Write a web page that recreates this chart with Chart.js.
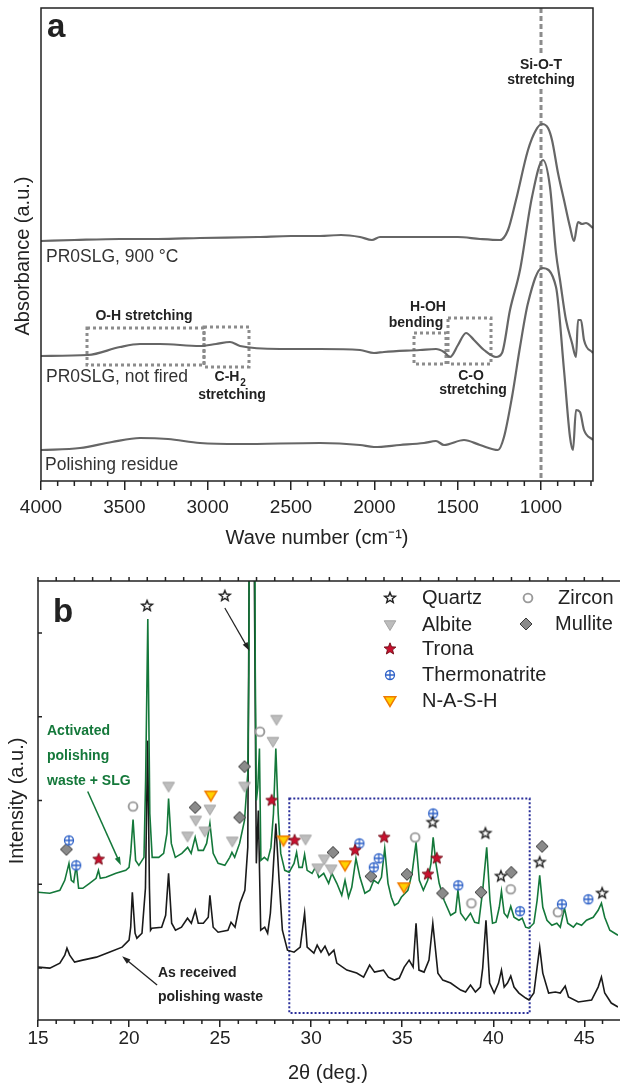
<!DOCTYPE html>
<html>
<head>
<meta charset="utf-8">
<script src="https://cdn.jsdelivr.net/npm/chart.js@4.4.1/dist/chart.umd.min.js"></script>
<style>
  body { margin: 0; background: #fff; }
  #ftir { position: absolute; left: 0; top: 0; }
  #xrd { position: absolute; left: 0; top: 560px; }
</style>
</head>
<body>
<canvas id="ftir" width="624" height="560"></canvas>
<canvas id="xrd" width="624" height="525"></canvas>
<script>
// ---- panel a: FTIR spectra (wave number in cm-1, absorbance in a.u.) ----
const wn900 = [4000, 3800, 3526, 3300, 3046, 2700, 2500, 2326, 2200, 2086, 2014, 1966, 1800, 1606, 1500, 1366, 1246, 1198, 1150, 1078, 1030, 994, 958, 934, 898, 862, 826, 802, 778, 754, 730, 688];
const abs900 = [2.40, 2.41, 2.42, 2.42, 2.43, 2.44, 2.45, 2.45, 2.46, 2.44, 2.41, 2.44, 2.44, 2.44, 2.44, 2.42, 2.41, 2.51, 2.81, 3.31, 3.51, 3.57, 3.53, 3.41, 3.08, 2.81, 2.54, 2.40, 2.59, 2.57, 2.58, 2.53];

const wnNotFired = [4000, 3718, 3526, 3406, 3286, 3046, 2950, 2866, 2806, 2566, 2326, 2086, 2002, 1942, 1726, 1630, 1582, 1546, 1498, 1450, 1402, 1342, 1270, 1234, 1186, 1126, 1054, 988, 946, 910, 886, 850, 814, 790, 778, 760, 742, 688];
const absNotFired = [1.25, 1.26, 1.34, 1.37, 1.37, 1.35, 1.37, 1.39, 1.35, 1.32, 1.32, 1.31, 1.28, 1.29, 1.31, 1.32, 1.29, 1.24, 1.36, 1.48, 1.41, 1.31, 1.24, 1.28, 1.71, 2.11, 2.84, 3.21, 2.94, 2.28, 2.01, 1.61, 1.38, 1.24, 1.61, 1.61, 1.41, 1.28];

const wnResidue = [4000, 3766, 3574, 3406, 3238, 3046, 2806, 2326, 2086, 2002, 1846, 1702, 1630, 1582, 1462, 1366, 1258, 1222, 1174, 1126, 1078, 994, 910, 862, 826, 808, 790, 766, 742, 688];
const absResidue = [0.31, 0.33, 0.39, 0.43, 0.42, 0.38, 0.37, 0.38, 0.36, 0.34, 0.36, 0.38, 0.40, 0.36, 0.41, 0.36, 0.31, 0.44, 0.84, 1.34, 1.78, 2.13, 1.94, 1.11, 0.44, 0.31, 0.71, 0.69, 0.51, 0.41];

const ftirTicks = [4000, 3500, 3000, 2500, 2000, 1500, 1000];
const siotBand = 1000;

// ---- panel b: XRD patterns (2theta in deg., intensity in a.u.) ----
const tthActivated = [15.00, 15.65, 16.20, 16.47, 16.70, 16.83, 16.96, 17.10, 17.23, 17.46,
  17.83, 18.19, 18.32, 18.42, 18.73, 19.28, 19.82, 20.00, 20.09, 20.22,
  20.36, 20.54, 20.82, 20.91, 21.03, 21.14, 21.27, 21.63, 21.90, 22.08,
  22.17, 22.32, 22.54, 22.90, 23.22, 23.41, 23.63, 23.80, 24.08, 24.26,
  24.44, 24.62, 24.89, 25.26, 25.53, 25.65, 25.80, 26.07, 26.34, 26.52,
  26.58, 26.64, 26.86, 26.93, 26.99, 27.07, 27.16, 27.24, 27.43, 27.61,
  27.79, 27.93, 28.06, 28.19, 28.33, 28.55, 28.79, 29.06, 29.20, 29.33,
  29.51, 29.64, 29.78, 30.05, 30.23, 30.42, 30.69, 30.96, 31.14, 31.41,
  31.68, 31.86, 32.05, 32.23, 32.46, 32.68, 32.95, 33.22, 33.44, 33.68,
  33.86, 34.04, 34.22, 34.40, 34.58, 34.77, 34.95, 35.31, 35.54, 35.76,
  35.94, 36.16, 36.40, 36.58, 36.70, 36.85, 37.03, 37.30, 37.66, 37.93,
  38.06, 38.21, 38.48, 38.75, 38.98, 39.20, 39.42, 39.64, 39.82, 39.96,
  40.15, 40.33, 40.45, 40.60, 40.78, 40.96, 41.14, 41.41, 41.59, 41.78,
  41.96, 42.23, 42.41, 42.55, 42.72, 42.95, 43.22, 43.49, 43.68, 43.91,
  44.09, 44.40, 44.58, 44.85, 45.12, 45.49, 45.76, 45.94, 46.12, 46.40,
  46.67, 46.85];
const intActivated = [76, 75, 78, 88, 105, 88, 86, 103, 80, 80,
  85, 90, 98, 90, 91, 95, 98, 101, 115, 149,
  108, 103, 111, 188, 350, 155, 111, 111, 115, 135,
  170, 125, 111, 115, 121, 115, 131, 118, 118, 125,
  145, 115, 105, 103, 111, 116, 111, 125, 148, 195,
  300, 750, 750, 300, 168, 181, 220, 108, 111, 108,
  121, 155, 220, 155, 115, 98, 96, 105, 116, 101,
  101, 114, 98, 95, 101, 91, 95, 85, 95, 85,
  73, 88, 71, 81, 110, 91, 75, 78, 88, 85,
  91, 120, 85, 71, 63, 65, 71, 78, 95, 126,
  88, 78, 88, 105, 131, 105, 85, 68, 53, 56,
  78, 55, 48, 55, 46, 45, 78, 121, 68, 45,
  46, 61, 77, 55, 51, 62, 51, 48, 50, 41,
  40, 45, 68, 93, 61, 48, 43, 45, 41, 60,
  45, 41, 45, 43, 48, 51, 58, 65, 51, 38,
  35, 33];

const tthReceived = [15.00, 15.65, 16.20, 16.47, 16.59, 16.74, 17.01, 17.45, 18.21, 18.91,
  19.62, 20.00, 20.09, 20.18, 20.33, 20.43, 20.71, 20.90, 21.02, 21.12,
  21.18, 21.25, 21.79, 22.01, 22.17, 22.34, 22.55, 22.88, 23.21, 23.42,
  23.64, 23.80, 24.08, 24.35, 24.44, 24.62, 24.89, 25.43, 25.60, 25.82,
  26.09, 26.36, 26.52, 26.62, 26.72, 26.84, 26.99, 27.10, 27.23, 27.45,
  27.61, 27.76, 27.88, 28.06, 28.24, 28.42, 28.70, 29.06, 29.40, 29.64,
  29.78, 30.15, 30.33, 30.54, 30.76, 30.98, 31.25, 31.41, 31.96, 32.50,
  32.88, 33.21, 33.48, 33.97, 34.24, 34.57, 34.84, 35.11, 35.38, 35.60,
  35.76, 35.92, 36.20, 36.47, 36.68, 36.96, 37.23, 37.66, 38.21, 38.48,
  38.75, 39.02, 39.29, 39.42, 39.60, 39.80, 40.05, 40.29, 40.45, 40.60,
  40.78, 40.96, 41.14, 41.41, 41.78, 41.96, 42.23, 42.41, 42.55, 42.72,
  43.04, 43.41, 43.68, 43.95, 44.13, 44.67, 45.40, 45.76, 45.94, 46.12,
  46.48, 46.85];
const intReceived = [1, 0, 5, 13, 20, 13, 6, 8, 11, 16,
  21, 28, 41, 76, 35, 30, 35, 80, 228, 80,
  38, 40, 41, 53, 95, 45, 38, 41, 50, 45,
  58, 45, 45, 51, 73, 41, 36, 38, 46, 41,
  65, 78, 121, 500, 900, 500, 105, 158, 38, 41,
  35, 55, 88, 145, 88, 38, 18, 16, 21, 55,
  21, 15, 23, 16, 22, 13, 18, 5, -2, -5,
  -9, 3, -4, -2, -9, -12, -10, 1, 8, 1,
  45, -2, -4, 8, 45, -5, -12, -15, -22, -24,
  -17, -24, -19, 0, 48, -15, -25, -15, -2, -19,
  -15, -8, -19, -25, -30, -32, -25, 1, 21, -5,
  -25, -24, -25, -18, -29, -34, -32, -19, -9, -25,
  -35, -39];

// phase markers (2theta, intensity of the symbol)
const quartzTth = [20.99, 25.26, 36.67, 39.57, 40.42, 42.55, 45.98];
const quartzInt = [363, 373, 146, 135, 92, 106, 75];
const albiteTth = [22.17, 23.21, 23.66, 24.16, 24.44, 25.67, 26.34, 27.90, 28.10, 29.69, 30.36, 30.72, 31.10];
const albiteInt = [182, 132, 148, 137, 159, 127, 182, 227, 249, 129, 100, 109, 99];
const tronaTth = [18.33, 27.83, 29.09, 32.41, 34.01, 36.41, 36.90];
const tronaInt = [109, 168, 128, 118, 131, 94, 110];
const thermoTth = [16.70, 17.10, 32.65, 33.44, 33.71, 36.70, 38.08, 41.47, 43.77, 45.22];
const thermoInt = [128, 103, 125, 101, 110, 155, 83, 57, 64, 69];
const nashTth = [24.49, 28.48, 31.86, 35.09];
const nashInt = [173, 128, 103, 81];
const zirconTth = [20.22, 27.19, 35.71, 38.80, 40.96, 43.55];
const zirconInt = [162, 237, 131, 65, 79, 56];
const mulliteTth = [16.56, 23.63, 26.07, 26.34, 31.20, 33.28, 35.26, 37.21, 39.33, 40.99, 42.68];
const mulliteInt = [119, 161, 151, 202, 116, 92, 94, 75, 76, 96, 122];

const xrdTicks = [15, 20, 25, 30, 35, 40, 45];
const intTicks = [0, 84, 168, 252, 336];

Chart.defaults.font.family = '"Liberation Sans", Arial, Helvetica, sans-serif';
const INK = '#222';
const GREEN = '#14783a';

function series(xs, ys) {
  return xs.map((x, i) => ({ x: x, y: ys[i] }));
}

function text(ctx, str, x, y, font, color, align) {
  ctx.font = font;
  ctx.fillStyle = color;
  ctx.textAlign = align || 'left';
  ctx.textBaseline = 'middle';
  ctx.fillText(str, x, y);
}

function arrow(ctx, x1, y1, x2, y2, color, lw) {
  const ang = Math.atan2(y2 - y1, x2 - x1), h = 9;
  ctx.setLineDash([]);
  ctx.strokeStyle = color;
  ctx.fillStyle = color;
  ctx.lineWidth = lw;
  ctx.beginPath();
  ctx.moveTo(x1, y1);
  ctx.lineTo(x2 - Math.cos(ang) * h * 0.7, y2 - Math.sin(ang) * h * 0.7);
  ctx.stroke();
  ctx.beginPath();
  ctx.moveTo(x2, y2);
  ctx.lineTo(x2 - h * Math.cos(ang - 0.32), y2 - h * Math.sin(ang - 0.32));
  ctx.lineTo(x2 - h * Math.cos(ang + 0.32), y2 - h * Math.sin(ang + 0.32));
  ctx.closePath();
  ctx.fill();
}

// marker glyphs used as point styles
function makeMarker(draw) {
  const c = document.createElement('canvas');
  c.width = 16;
  c.height = 16;
  const g = c.getContext('2d');
  g.translate(8, 8);
  draw(g);
  return c;
}
function starPath(g, ro, ri) {
  g.beginPath();
  for (let k = 0; k < 10; k++) {
    const r = k % 2 ? ri : ro;
    const a = -Math.PI / 2 + k * Math.PI / 5;
    g.lineTo(r * Math.cos(a), r * Math.sin(a));
  }
  g.closePath();
}
function triDown(g, fill, stroke, lw) {
  g.beginPath();
  g.moveTo(-5.8, -4.2);
  g.lineTo(5.8, -4.2);
  g.lineTo(0, 5.5);
  g.closePath();
  g.fillStyle = fill;
  g.fill();
  g.strokeStyle = stroke;
  g.lineWidth = lw;
  g.stroke();
}
const markers = {
  quartz: makeMarker(g => { starPath(g, 5.6, 2.4); g.fillStyle = '#fff'; g.fill(); g.strokeStyle = INK; g.lineWidth = 1.4; g.stroke(); }),
  albite: makeMarker(g => triDown(g, '#bdbdbd', '#a3a3a3', 1)),
  trona: makeMarker(g => { starPath(g, 6.2, 2.7); g.fillStyle = '#c8102e'; g.fill(); g.strokeStyle = '#6e0a14'; g.lineWidth = 0.9; g.stroke(); }),
  thermo: makeMarker(g => {
    g.beginPath(); g.arc(0, 0, 4.5, 0, Math.PI * 2); g.fillStyle = '#fff'; g.fill();
    g.strokeStyle = '#2f62c8'; g.lineWidth = 1.3; g.stroke();
    g.beginPath(); g.moveTo(-4.5, 0); g.lineTo(4.5, 0); g.moveTo(0, -4.5); g.lineTo(0, 4.5); g.stroke();
  }),
  nash: makeMarker(g => triDown(g, '#ffd200', '#f07a00', 1.5)),
  zircon: makeMarker(g => { g.beginPath(); g.arc(0, 0, 4.4, 0, Math.PI * 2); g.fillStyle = '#fff'; g.fill(); g.strokeStyle = '#9a9a9a'; g.lineWidth = 1.9; g.stroke(); }),
  mullite: makeMarker(g => {
    g.beginPath(); g.moveTo(0, -6); g.lineTo(6, 0); g.lineTo(0, 6); g.lineTo(-6, 0); g.closePath();
    g.fillStyle = '#8a8a8a'; g.fill(); g.strokeStyle = '#3a3a3a'; g.lineWidth = 1; g.stroke();
  })
};

// ---------- panel a ----------
const bandBoxes = [
  { from: 3724, to: 3022, lo: 1.16, hi: 1.53 },
  { from: 3022, to: 2752, lo: 1.14, hi: 1.54 },
  { from: 1762, to: 1570, lo: 1.17, hi: 1.48 },
  { from: 1558, to: 1300, lo: 1.17, hi: 1.63 }
];

const ftirDecor = {
  id: 'ftirDecor',
  beforeDatasetsDraw(chart) {
    const { ctx, chartArea: a, scales: { x, y } } = chart;
    ctx.save();
    const px = x.getPixelForValue(siotBand);
    ctx.strokeStyle = '#8c8c8c';
    ctx.lineWidth = 3;
    ctx.setLineDash([5, 3]);
    ctx.beginPath();
    ctx.moveTo(px, a.top);
    ctx.lineTo(px, 54);
    ctx.moveTo(px, 89);
    ctx.lineTo(px, a.bottom);
    ctx.stroke();

    ctx.setLineDash([3, 3]);
    ctx.lineWidth = 3;
    bandBoxes.forEach(b => {
      const x1 = x.getPixelForValue(b.from), x2 = x.getPixelForValue(b.to);
      const y1 = y.getPixelForValue(b.hi), y2 = y.getPixelForValue(b.lo);
      ctx.strokeRect(x1, y1, x2 - x1, y2 - y1);
    });
    ctx.restore();
  },
  afterDraw(chart) {
    const { ctx, chartArea: a, scales: { x } } = chart;
    ctx.save();
    ctx.setLineDash([]);
    ctx.strokeStyle = INK;
    ctx.lineWidth = 1.5;
    ctx.strokeRect(a.left, a.top, a.right - a.left, a.bottom - a.top);

    // minor ticks every 100 cm-1
    ctx.beginPath();
    for (let v = 700; v < 4000; v += 100) {
      if (v % 500 === 0) continue;
      const px = x.getPixelForValue(v);
      ctx.moveTo(px, a.bottom);
      ctx.lineTo(px, a.bottom + 5);
    }
    ctx.stroke();

    // y title
    ctx.translate(23, 256);
    ctx.rotate(-Math.PI / 2);
    text(ctx, 'Absorbance (a.u.)', 0, 0, '20px "Liberation Sans", Arial, sans-serif', INK, 'center');
    ctx.setTransform(1, 0, 0, 1, 0, 0);

    const reg = '17.5px "Liberation Sans", Arial, sans-serif';
    const bold = 'bold 14px "Liberation Sans", Arial, sans-serif';
    text(ctx, 'a', 47, 28, 'bold 33px "Liberation Sans", Arial, sans-serif', INK);
    text(ctx, 'PR0SLG, 900 °C', 46, 257, reg, '#333');
    text(ctx, 'PR0SLG, not fired', 46, 377, reg, '#333');
    text(ctx, 'Polishing residue', 45, 465, reg, '#333');

    text(ctx, 'Si-O-T', 541, 65, bold, INK, 'center');
    text(ctx, 'stretching', 541, 80, bold, INK, 'center');
    text(ctx, 'O-H stretching', 144, 316, bold, INK, 'center');
    text(ctx, 'C-H', 227, 377, bold, INK, 'center');
    text(ctx, '2', 243, 383, 'bold 10px "Liberation Sans", Arial, sans-serif', INK, 'center');
    text(ctx, 'stretching', 232, 395, bold, INK, 'center');
    text(ctx, 'H-OH', 428, 307, bold, INK, 'center');
    text(ctx, 'bending', 416, 323, bold, INK, 'center');
    text(ctx, 'C-O', 471, 376, bold, INK, 'center');
    text(ctx, 'stretching', 473, 390, bold, INK, 'center');
    ctx.restore();
  }
};

function ftirCurve(xs, ys) {
  return {
    data: series(xs, ys),
    borderColor: '#666',
    borderWidth: 2.2,
    pointRadius: 0,
    cubicInterpolationMode: 'monotone'
  };
}

new Chart(document.getElementById('ftir'), {
  type: 'line',
  data: {
    datasets: [
      ftirCurve(wn900, abs900),
      ftirCurve(wnNotFired, absNotFired),
      ftirCurve(wnResidue, absResidue)
    ]
  },
  options: {
    responsive: false,
    animation: false,
    events: [],
    layout: { padding: { left: 41, right: 31, top: 8, bottom: 0 } },
    plugins: { legend: { display: false }, tooltip: { enabled: false } },
    scales: {
      x: {
        type: 'linear',
        reverse: true,
        min: 688,
        max: 4000,
        afterBuildTicks: s => { s.ticks = ftirTicks.map(v => ({ value: v })); },
        afterFit: s => { s.height = 79; },
        ticks: { font: { size: 19 }, color: INK, padding: 6, maxRotation: 0, autoSkip: false, callback: v => String(v) },
        grid: { drawOnChartArea: false, drawTicks: true, tickLength: 9, color: INK, lineWidth: 1.5 },
        border: { display: false },
        title: { display: true, text: 'Wave number (cm⁻¹)', font: { size: 20 }, color: INK, padding: { top: 0, bottom: 10 } }
      },
      y: { display: false, min: 0, max: 4.73 }
    }
  },
  plugins: [ftirDecor]
});

// ---------- panel b ----------
const zoomBox = { from: 28.8, to: 42.0, lo: -45, hi: 170 };

const legendItems = [
  { label: 'Quartz', marker: 'quartz', mx: 390, tx: 422, y: 38 },
  { label: 'Albite', marker: 'albite', mx: 390, tx: 422, y: 65 },
  { label: 'Trona', marker: 'trona', mx: 390, tx: 422, y: 89 },
  { label: 'Thermonatrite', marker: 'thermo', mx: 390, tx: 422, y: 115 },
  { label: 'N-A-S-H', marker: 'nash', mx: 390, tx: 422, y: 141 },
  { label: 'Zircon', marker: 'zircon', mx: 528, tx: 558, y: 38 },
  { label: 'Mullite', marker: 'mullite', mx: 526, tx: 555, y: 64 }
];

const xrdDecor = {
  id: 'xrdDecor',
  beforeDatasetsDraw(chart) {
    const { ctx, scales: { x, y } } = chart;
    ctx.save();
    ctx.strokeStyle = '#2a2f9a';
    ctx.lineWidth = 2;
    ctx.setLineDash([2, 2]);
    const x1 = x.getPixelForValue(zoomBox.from), x2 = x.getPixelForValue(zoomBox.to);
    const y1 = y.getPixelForValue(zoomBox.hi), y2 = y.getPixelForValue(zoomBox.lo);
    ctx.strokeRect(x1, y1, x2 - x1, y2 - y1);
    ctx.restore();
  },
  afterDraw(chart) {
    const { ctx, chartArea: a, scales: { x, y } } = chart;
    ctx.save();
    ctx.setLineDash([]);
    ctx.strokeStyle = INK;
    ctx.lineWidth = 1.5;
    ctx.beginPath();
    ctx.moveTo(a.right + 2, a.top);
    ctx.lineTo(a.left, a.top);
    ctx.lineTo(a.left, a.bottom);
    ctx.lineTo(a.right + 2, a.bottom);
    ctx.stroke();

    ctx.beginPath();
    for (let v = 16; v <= 46; v++) {
      const px = x.getPixelForValue(v);
      if (v % 5 !== 0) {
        ctx.moveTo(px, a.bottom);
        ctx.lineTo(px, a.bottom + 4);
      }
    }
    for (let v = 15; v <= 46; v++) {
      const px = x.getPixelForValue(v);
      ctx.moveTo(px, a.top);
      ctx.lineTo(px, a.top - 4);
    }
    intTicks.forEach(v => {
      const py = y.getPixelForValue(v);
      ctx.moveTo(a.left, py);
      ctx.lineTo(a.left + 4, py);
    });
    ctx.stroke();

    ctx.translate(17, 241);
    ctx.rotate(-Math.PI / 2);
    text(ctx, 'Intensity (a.u.)', 0, 0, '20px "Liberation Sans", Arial, sans-serif', INK, 'center');
    ctx.setTransform(1, 0, 0, 1, 0, 0);

    text(ctx, 'b', 53, 53, 'bold 33px "Liberation Sans", Arial, sans-serif', INK);

    legendItems.forEach(it => {
      const m = markers[it.marker];
      ctx.drawImage(m, it.mx - 8, it.y - 8);
      text(ctx, it.label, it.tx, it.y, '20px "Liberation Sans", Arial, sans-serif', INK);
    });

    const bold = 'bold 14px "Liberation Sans", Arial, sans-serif';
    text(ctx, 'Activated', 47, 171, bold, GREEN);
    text(ctx, 'polishing', 47, 196, bold, GREEN);
    text(ctx, 'waste + SLG', 47, 221, bold, GREEN);
    text(ctx, 'As received', 158, 413, bold, INK);
    text(ctx, 'polishing waste', 158, 437, bold, INK);

    arrow(ctx, x.getPixelForValue(17.73), y.getPixelForValue(177), x.getPixelForValue(19.55), y.getPixelForValue(103), GREEN, 1.5);
    arrow(ctx, x.getPixelForValue(21.54), y.getPixelForValue(-17), x.getPixelForValue(19.62), y.getPixelForValue(12), INK, 1.3);
    arrow(ctx, x.getPixelForValue(25.26), y.getPixelForValue(361), x.getPixelForValue(26.61), y.getPixelForValue(318), INK, 1.2);
    ctx.restore();
  }
};

function phase(xs, ys, marker) {
  return {
    type: 'scatter',
    data: series(xs, ys),
    pointStyle: markers[marker],
    pointRadius: 5,
    showLine: false,
    order: 0
  };
}

new Chart(document.getElementById('xrd'), {
  type: 'line',
  data: {
    datasets: [
      phase(quartzTth, quartzInt, 'quartz'),
      phase(albiteTth, albiteInt, 'albite'),
      phase(tronaTth, tronaInt, 'trona'),
      phase(thermoTth, thermoInt, 'thermo'),
      phase(nashTth, nashInt, 'nash'),
      phase(zirconTth, zirconInt, 'zircon'),
      phase(mulliteTth, mulliteInt, 'mullite'),
      { data: series(tthActivated, intActivated), borderColor: GREEN, borderWidth: 1.6, pointRadius: 0, tension: 0, order: 2 },
      { data: series(tthReceived, intReceived), borderColor: '#1a1a1a', borderWidth: 1.6, pointRadius: 0, tension: 0, order: 3 }
    ]
  },
  options: {
    responsive: false,
    animation: false,
    events: [],
    layout: { padding: { left: 38, right: 0, top: 21, bottom: 0 } },
    plugins: { legend: { display: false }, tooltip: { enabled: false } },
    scales: {
      x: {
        type: 'linear',
        min: 15,
        max: 46.85,
        afterBuildTicks: s => { s.ticks = xrdTicks.map(v => ({ value: v })); },
        afterFit: s => { s.height = 65; },
        ticks: { font: { size: 19 }, color: INK, padding: 0, maxRotation: 0, autoSkip: false, callback: v => String(v) },
        grid: { drawOnChartArea: false, drawTicks: true, tickLength: 7, color: INK, lineWidth: 1.5 },
        border: { display: false },
        title: { display: true, text: '2θ (deg.)', font: { size: 20 }, color: INK, padding: { top: 0, bottom: 0 } }
      },
      y: { display: false, min: -52, max: 388 }
    }
  },
  plugins: [xrdDecor]
});
</script>
</body>
</html>
